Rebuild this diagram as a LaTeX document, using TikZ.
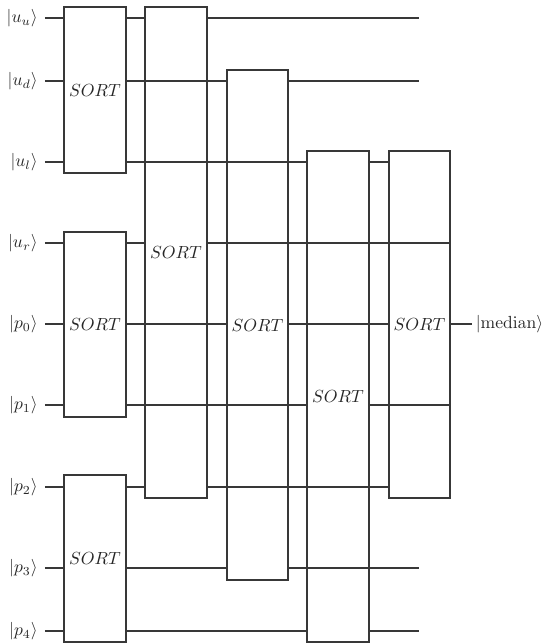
\documentclass[tikz,border=0pt]{standalone}
\usetikzlibrary{fit}
\begin{document}
\begin{tikzpicture}[x=0.57pt,y=-0.57pt,
  wire/.style={line width=0.6pt,draw=black!78},
  sortbox/.style={draw=black!78,line width=0.6pt,inner sep=0pt,label={center:$SORT$}},
  ket/.style={anchor=east,inner xsep=4pt,inner ysep=1.5pt,text=black!85},
  every label/.style={text=black!85}]
\useasboundingbox (0,0) rectangle (546,643);
% input labels
\node[ket] (uu) at (45,18) {$|u_u\rangle$};
\node[ket] (ud) at (45,81) {$|u_d\rangle$};
\node[ket] (ul) at (45,162) {$|u_l\rangle$};
\node[ket] (ur) at (45,243) {$|u_r\rangle$};
\node[ket] (p0) at (45,324) {$|p_0\rangle$};
\node[ket] (p1) at (45,405) {$|p_1\rangle$};
\node[ket] (p2) at (45,487) {$|p_2\rangle$};
\node[ket] (p3) at (45,568) {$|p_3\rangle$};
\node[ket] (p4) at (45,631) {$|p_4\rangle$};
\coordinate (endc) at (419,0);
% boxes
\node[sortbox,fit={(64,7) (126,173)}] (b1) {};
\node[sortbox,fit={(64,232) (126,417)}] (b2) {};
\node[sortbox,fit={(64,475) (126,642)}] (b3) {};
\node[sortbox,fit={(145,7) (207,498)}] (b4) {};
\node[sortbox,fit={(227,70) (288,580)}] (b5) {};
\node[sortbox,fit={(307,151) (369,642)}] (b6) {};
\node[sortbox,fit={(389,151) (450,498)}] (b7) {};
\node[anchor=west,inner sep=2pt,text=black!85] (med) at (472,324) {$|\mathrm{median}\rangle$};
% wires
\draw[wire] (uu.east) -- (uu -| b1.west);
\draw[wire] (uu -| b1.east) -- (uu -| b4.west);
\draw[wire] (uu -| b4.east) -- (uu -| endc);
\draw[wire] (ud.east) -- (ud -| b1.west);
\draw[wire] (ud -| b1.east) -- (ud -| b5.west);
\draw[wire] (ud -| b5.east) -- (ud -| endc);
\draw[wire] (ul.east) -- (ul -| b1.west);
\draw[wire] (ul -| b1.east) -- (ul -| b6.west);
\draw[wire] (ul -| b6.east) -- (ul -| b7.west);
\draw[wire] (ur.east) -- (ur -| b2.west);
\draw[wire] (ur -| b2.east) -- (ur -| b4.west);
\draw[wire] (ur -| b4.east) -- (ur -| b7.east);
\draw[wire] (p0.east) -- (p0 -| b2.west);
\draw[wire] (p0 -| b2.east) -- (p0 -| b5.west);
\draw[wire] (p0 -| b5.east) -- (p0 -| b7.west);
\draw[wire] (p0 -| b7.east) -- (med.west);
\draw[wire] (p1.east) -- (p1 -| b2.west);
\draw[wire] (p1 -| b2.east) -- (p1 -| b6.west);
\draw[wire] (p1 -| b6.east) -- (p1 -| b7.east);
\draw[wire] (p2.east) -- (p2 -| b3.west);
\draw[wire] (p2 -| b3.east) -- (p2 -| b4.west);
\draw[wire] (p2 -| b4.east) -- (p2 -| b7.west);
\draw[wire] (p3.east) -- (p3 -| b3.west);
\draw[wire] (p3 -| b3.east) -- (p3 -| b5.west);
\draw[wire] (p3 -| b5.east) -- (p3 -| endc);
\draw[wire] (p4.east) -- (p4 -| b3.west);
\draw[wire] (p4 -| b3.east) -- (p4 -| b6.west);
\draw[wire] (p4 -| b6.east) -- (p4 -| endc);
\end{tikzpicture}
\end{document}
